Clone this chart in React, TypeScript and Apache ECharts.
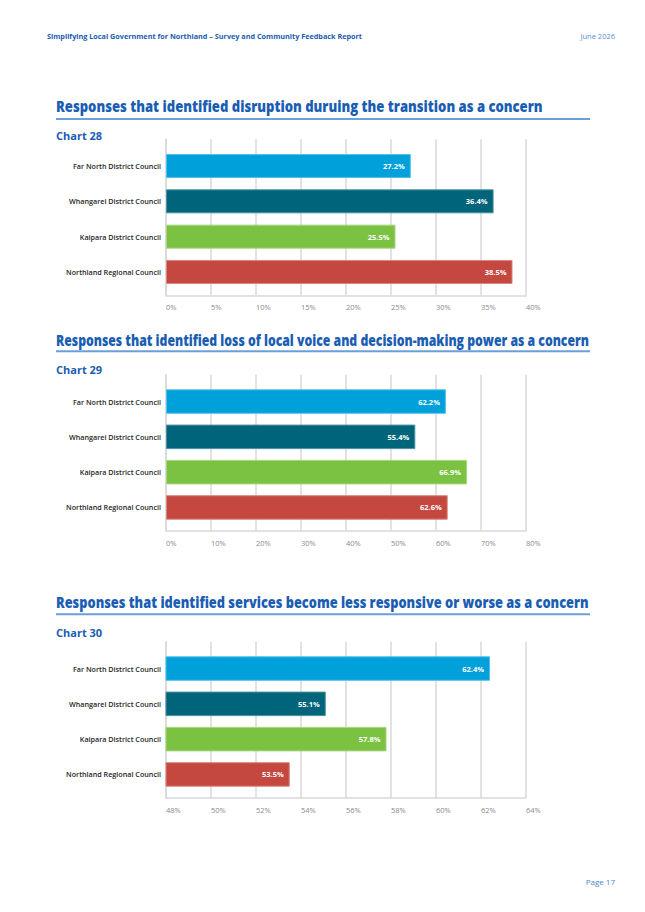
import React, { useEffect, useRef } from "react";
import * as echarts from "echarts";

const categories = [
  "Far North District Council",
  "Whangarei District Council",
  "Kaipara District Council",
  "Northland Regional Council",
];
const barColors = ["#00a0db", "#00647a", "#7cc242", "#c4483f"];
const barBorders = ["#52c0ea", "#4a8f9f", "#a6d67f", "#d9857e"];

const chart28Values = [27.2, 36.4, 25.5, 38.5];
const chart29Values = [62.2, 55.4, 66.9, 62.6];
const chart30Values = [62.4, 55.1, 57.8, 53.5];

const chart28Axis = { min: 0, max: 40, interval: 5 };
const chart29Axis = { min: 0, max: 80, interval: 10 };
const chart30Axis = { min: 48, max: 64, interval: 2 };

const headerText = "Simplifying Local Government for Northland \u2013 Survey and Community Feedback Report";
const headerDate = "June 2026";
const pageText = "Page 17";

const sectionTitles = [
  "Responses that identified disruption duruing the transition as a concern",
  "Responses that identified loss of local voice and decision-making power as a concern",
  "Responses that identified services become less responsive or worse as a concern",
];
const chartLabels = ["Chart 28", "Chart 29", "Chart 30"];

const FONT = '"Open Sans", "Noto Sans", sans-serif';

function measure(text: string, font: string): number {
  const c = document.createElement("canvas");
  const ctx = c.getContext("2d");
  if (!ctx) return 0;
  ctx.font = font;
  return ctx.measureText(text).width;
}

function fitText(
  text: string,
  x: number,
  y: number,
  size: number,
  weight: string | number,
  color: string,
  width: number,
  align: "left" | "right" = "left"
) {
  const w = measure(text, `${weight} ${size}px ${FONT}`);
  const s = w > 0 ? width / w : 1;
  return {
    type: "text",
    x,
    y,
    scaleX: s,
    style: {
      text,
      fontSize: size,
      fontWeight: weight,
      fontFamily: FONT,
      fill: color,
      align,
      verticalAlign: "middle",
    },
  };
}

export default function App() {
  const ref = useRef<HTMLDivElement>(null);

  useEffect(() => {
    if (!ref.current) return;
    const chart = echarts.init(ref.current, undefined, { renderer: "svg" });

    const left = 166;
    const plotW = 360;
    const layouts = [
      { titleY: 106.3, lineY: 119, labelY: 135.5, gridTop: 139.3, axisY: 295.3, barTop: 148.4, barBottom: 289.6, barW: 24, titleW: 487 },
      { titleY: 339.6, lineY: 351.2, labelY: 369, gridTop: 374.8, axisY: 530.8, barTop: 383.9, barBottom: 525.1, barW: 24.5, titleW: 533 },
      { titleY: 602.3, lineY: 614.3, labelY: 632, gridTop: 641.8, axisY: 797.8, barTop: 650.9, barBottom: 792.1, barW: 24.5, titleW: 533 },
    ];
    const values = [chart28Values, chart29Values, chart30Values];
    const axes = [chart28Axis, chart29Axis, chart30Axis];

    const grids: any[] = [];
    const xAxes: any[] = [];
    const yAxes: any[] = [];
    const series: any[] = [];
    const graphics: any[] = [];

    const gridColor = "#d9d9d9";

    layouts.forEach((L, i) => {
      const ax = axes[i];
      grids.push({ left, width: plotW, top: L.gridTop, height: L.axisY - L.gridTop, containLabel: false });
      xAxes.push({
        gridIndex: 2 * i,
        type: "value",
        min: ax.min,
        max: ax.max,
        interval: ax.interval,
        axisLine: { show: true, onZero: false, lineStyle: { color: gridColor, width: 1.5 } },
        axisTick: { show: false },
        splitLine: { show: true, lineStyle: { color: gridColor, width: 1.5 } },
        axisLabel: {
          show: true,
          formatter: "{value}%",
          align: "left",
          margin: 8,
          color: "#8a8a8a",
          fontSize: 7.5,
          fontFamily: FONT,
        },
      });
      yAxes.push({
        gridIndex: 2 * i,
        type: "value",
        min: 0,
        max: 1,
        axisLine: { show: true, onZero: false, lineStyle: { color: gridColor, width: 1.5 } },
        axisTick: { show: false },
        axisLabel: { show: false },
        splitLine: { show: false },
      });
      grids.push({ left, width: plotW, top: L.barTop, height: L.barBottom - L.barTop, containLabel: false });
      xAxes.push({
        gridIndex: 2 * i + 1,
        type: "value",
        min: ax.min,
        max: ax.max,
        interval: ax.interval,
        show: false,
      });
      yAxes.push({
        gridIndex: 2 * i + 1,
        type: "category",
        data: categories,
        inverse: true,
        axisLine: { show: false },
        axisTick: { show: false },
        splitLine: { show: false },
        axisLabel: {
          margin: 5,
          color: "#262626",
          fontSize: 7.2,
          fontWeight: 600,
          fontFamily: FONT,
        },
      });
      series.push({
        type: "bar",
        xAxisIndex: 2 * i + 1,
        yAxisIndex: 2 * i + 1,
        barWidth: L.barW,
        data: values[i].map((v, k) => ({
          value: v,
          itemStyle: { color: barColors[k], borderColor: barBorders[k], borderWidth: 1 },
        })),
        label: {
          show: true,
          position: "insideRight",
          distance: 6,
          color: "#ffffff",
          fontSize: 7.5,
          fontWeight: 700,
          fontFamily: FONT,
          formatter: (p: any) => Number(p.value).toFixed(1) + "%",
        },
      });

      graphics.push(fitText(sectionTitles[i], 56, L.titleY, 15.5, 800, "#1a5db3", L.titleW));
      graphics.push({
        type: "line",
        shape: { x1: 56, y1: L.lineY, x2: 590, y2: L.lineY },
        style: { stroke: "#6a9fd8", lineWidth: 2 },
      });
      graphics.push({
        type: "text",
        x: 56,
        y: L.labelY,
        style: {
          text: chartLabels[i],
          fontSize: 11,
          fontWeight: 700,
          fontFamily: FONT,
          fill: "#1a5db3",
          align: "left",
          verticalAlign: "middle",
        },
      });
    });

    graphics.push(fitText(headerText, 47, 36, 7.2, 700, "#1b5cb0", 315));
    graphics.push({
      type: "text",
      x: 615,
      y: 36,
      style: {
        text: headerDate,
        fontSize: 7.5,
        fontWeight: 400,
        fontFamily: FONT,
        fill: "#5a8fd2",
        align: "right",
        verticalAlign: "middle",
      },
    });
    graphics.push({
      type: "text",
      x: 615,
      y: 881.7,
      style: {
        text: pageText,
        fontSize: 8,
        fontWeight: 400,
        fontFamily: FONT,
        fill: "#4a86d0",
        align: "right",
        verticalAlign: "middle",
      },
    });

    chart.setOption({
      animation: false,
      backgroundColor: "#ffffff",
      grid: grids,
      xAxis: xAxes,
      yAxis: yAxes,
      series,
      graphic: graphics,
    });

    return () => chart.dispose();
  }, []);

  return (
    <div
      ref={ref}
      style={{ position: "absolute", left: 0, top: 0, width: 645, height: 912, background: "#ffffff" }}
    />
  );
}
